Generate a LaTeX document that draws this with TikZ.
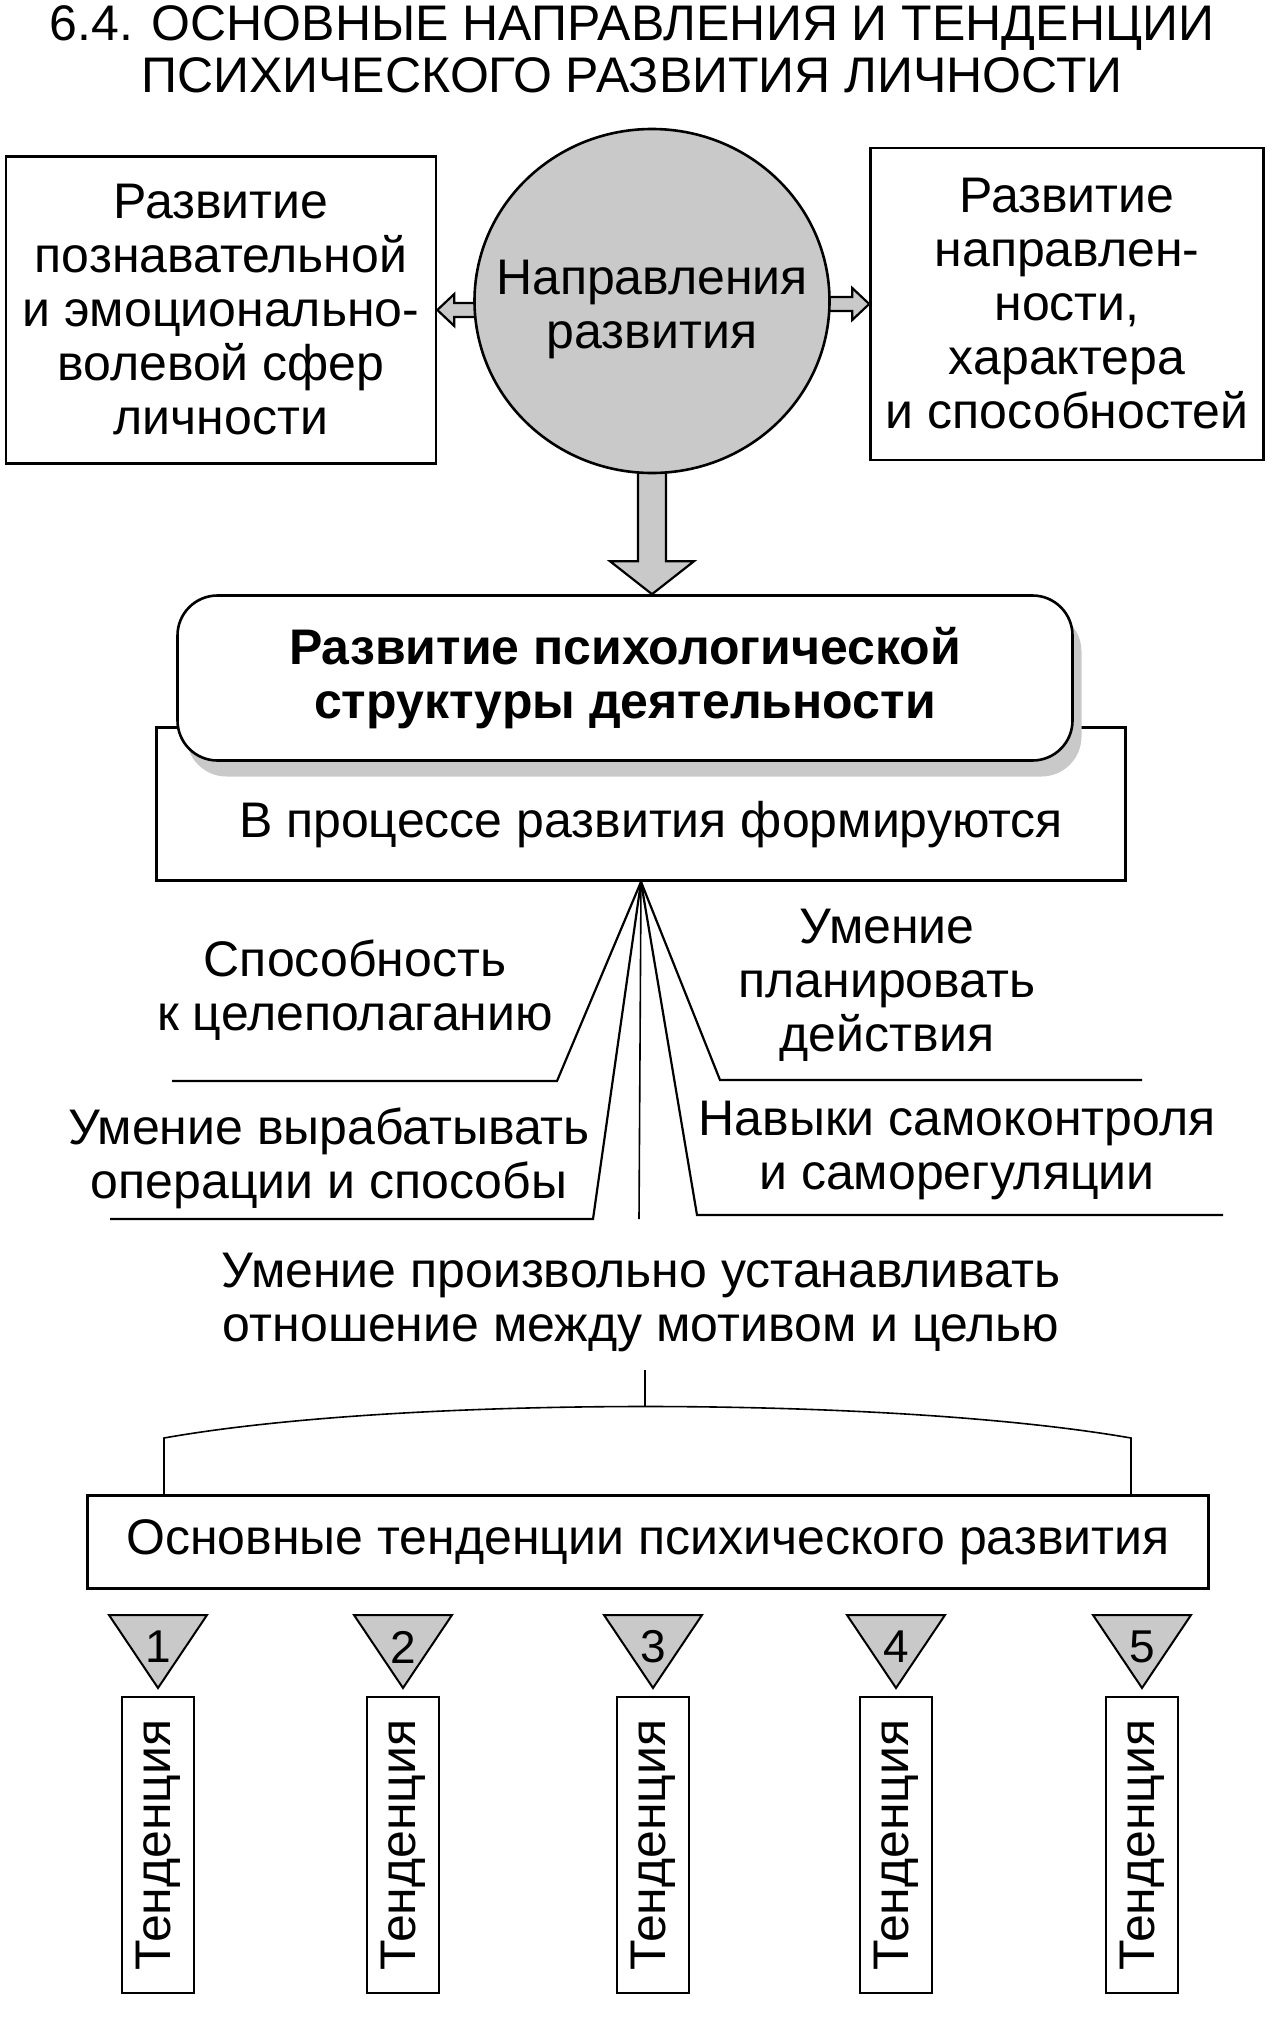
\documentclass[tikz,border=0pt]{standalone}
\usepackage{fontspec}
\setmainfont{Liberation Sans}
\usetikzlibrary{arrows.meta, positioning, shapes.geometric, calc, shadows, backgrounds}
\definecolor{cdot}{HTML}{C9C9C9}

\begin{document}
\begin{tikzpicture}[
  x=1pt, y=-1pt,
  font=\fontsize{50}{54}\selectfont,
  box/.style={draw, line width=2.6pt, align=center, inner sep=0pt},
  blk/.style={draw, line width=2.2pt, fill=cdot, line join=miter},
  fan/.style={line width=2.2pt},
  thinl/.style={line width=1.6pt},
  tri/.style={draw, line width=2pt, fill=cdot, line join=miter},
  tend/.style={box, rotate=90, minimum width=296pt, minimum height=72pt,
               font=\fontsize{50}{60}\selectfont},
  ]
\useasboundingbox (0,0) rectangle (1286,2023);

% title
\node[align=center, font=\fontsize{50}{52}\selectfont] (ttl) at (632,49)
  {6.4. ОСНОВНЫЕ НАПРАВЛЕНИЯ И ТЕНДЕНЦИИ\\ПСИХИЧЕСКОГО РАЗВИТИЯ ЛИЧНОСТИ};

% directions
\node[box, minimum width=430pt, minimum height=307pt] (lb) at (221,310)
  {Развитие\\познавательной\\и эмоционально-\\волевой сфер\\личности};
\node[box, minimum width=393pt, minimum height=312pt] (rb) at (1067,304)
  {Развитие\\направлен-\\ности,\\характера\\и способностей};
\node[draw, ellipse, line width=2.6pt, fill=cdot, inner sep=0pt,
      minimum width=355pt, minimum height=344pt,
      label={[align=center, yshift=-8pt]center:Направления\\развития}] (dir) at (652,301) {};

% activity structure
\node[box, minimum width=969pt, minimum height=153pt] (proc) at (641,804) {};
\node (proct) at (651,825) {В процессе развития формируются};
\node[box, fill=white, rounded corners=40pt, minimum width=895pt, minimum height=165pt,
      font=\fontsize{50}{54}\selectfont\bfseries,
      drop shadow={shadow xshift=9pt, shadow yshift=-16pt, fill=cdot, opacity=1}]
  (dev) at (625,678) {Развитие психологической\\структуры деятельности};

\begin{scope}[on background layer]
\draw[blk] (lb.east) -- ++(17,-16) -- ++(0,9) -- ++(30,0) -- ++(0,14)
  -- ++(-30,0) -- ++(0,9) -- cycle;
\draw[blk] (rb.west) -- ++(-17,-16) -- ++(0,9) -- ++(-45,0) -- ++(0,14)
  -- ++(45,0) -- ++(0,9) -- cycle;
\draw[blk] (dir.south |- dev.north) -- ++(-42,-33) -- ++(28,0) -- ++(0,-95)
  -- ++(28,0) -- ++(0,95) -- ++(28,0) -- cycle;
\end{scope}

% abilities
\node[align=center] (goal) at (355,990) {Способность\\к целеполаганию};
\node[align=center] (plan) at (887,985) {Умение\\планировать\\действия};
\node[align=center] (oper) at (329,1158) {Умение вырабатывать\\операции и способы};
\node[align=center] (self) at (957,1150) {Навыки самоконтроля\\и саморегуляции};
\node[align=center] (motiv) at (641,1302)
  {Умение произвольно устанавливать\\отношение между мотивом и целью};

\coordinate (apex) at (proc.south);
\coordinate (g1) at (557,1081);  \coordinate (g2) at (172,1081);
\coordinate (o1) at (593,1219);  \coordinate (o2) at (110,1219);
\coordinate (c1) at (639,1219);
\coordinate (p1) at (720,1080);  \coordinate (p2) at (1142,1080);
\coordinate (s1) at (697,1215);  \coordinate (s2) at (1223,1215);
\draw[fan] (apex) -- (g1) -- (g2);
\draw[fan] (apex) -- (o1) -- (o2);
\draw[thinl] (apex) -- (c1);
\draw[fan] (apex) -- (p1) -- (p2);
\draw[fan] (apex) -- (s1) -- (s2);

% tendencies
\node[box, minimum width=1121pt, minimum height=93pt] (tbox) at (648,1542)
  {Основные тенденции психического развития};
\coordinate (m1) at (645,1370);
\coordinate (br) at (645,1406);
\coordinate (bl) at (164,1438);
\coordinate (bR) at (1131,1438);
\draw[thinl] (m1) -- (br);
\draw[thinl] (bl |- tbox.north) -- (bl) .. controls (400,1396) and (890,1396) .. (bR)
  -- (bR |- tbox.north);

\foreach \i/\x in {1/158, 2/403, 3/653, 4/896, 5/1142} {
  \draw[tri] (\x-49,1615) -- (\x+49,1615) -- (\x,1688) -- cycle;
  \node[font=\fontsize{46}{50}\selectfont] (n\i) at (\x,1647) {\i};
  \node[tend] (t\i) at (\x,1845) {Тенденция};
}
\end{tikzpicture}
\end{document}
